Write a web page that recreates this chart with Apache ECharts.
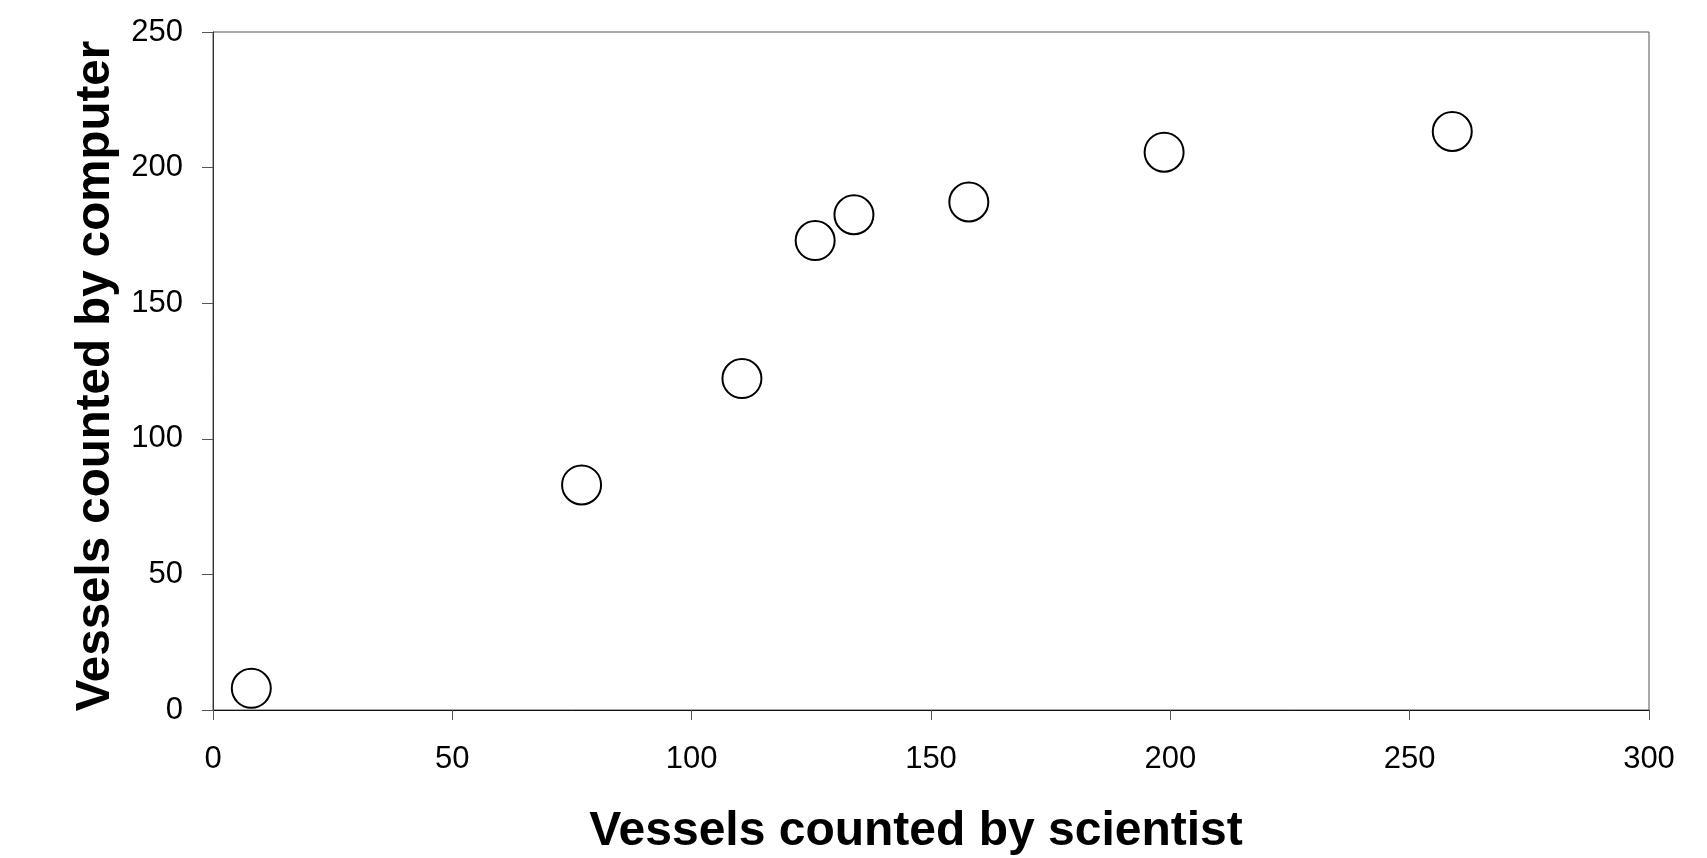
<!DOCTYPE html>
<html>
<head>
<meta charset="utf-8">
<script src="https://cdn.jsdelivr.net/npm/echarts@6/dist/echarts.min.js"></script>
<style>
html,body{margin:0;padding:0;background:#fff;}
#chart{width:1707px;height:858px;}
</style>
</head>
<body>
<div id="chart"></div>
<script>
var scientistCounts = [8, 77, 110.5, 125.8, 133.9, 157.9, 198.7, 258.9];
var computerCounts = [8, 83, 122.2, 173.1, 182.6, 187.3, 205.7, 213.3];
var xTitle = 'Vessels counted by scientist';
var yTitle = 'Vessels counted by computer';

var points = scientistCounts.map(function (x, i) { return [x, computerCounts[i]]; });

var chart = echarts.init(document.getElementById('chart'), null, {renderer: 'canvas'});
var font = '"Liberation Sans", Arial, Helvetica, sans-serif';
chart.setOption({
  animation: false,
  backgroundColor: '#ffffff',
  grid: {left: 213, top: 32, right: 58, bottom: 148, containLabel: false, outerBoundsMode: 'none',
         show: true, borderColor: '#555555', borderWidth: 1, backgroundColor: 'transparent'},
  xAxis: {
    type: 'value', min: 0, max: 300, interval: 50,
    name: xTitle, nameLocation: 'middle', nameGap: 98,
    nameTextStyle: {fontFamily: font, fontSize: 48, fontWeight: 'bold', color: '#000', padding: [0, 30, 0, 0]},
    axisLine: {show: true, onZero: false, lineStyle: {color: '#111', width: 1}},
    axisTick: {show: true, inside: false, length: 10, lineStyle: {color: '#555', width: 1}},
    axisLabel: {show: true, margin: 34, fontFamily: font, fontSize: 31, color: '#000'},
    splitLine: {show: false}
  },
  yAxis: {
    type: 'value', min: 0, max: 250, interval: 50,
    name: yTitle, nameLocation: 'middle', nameGap: 93,
    nameTextStyle: {fontFamily: font, fontSize: 47.5, fontWeight: 'bold', color: '#000', padding: [0, 10, 0, 0]},
    axisLine: {show: true, onZero: false, lineStyle: {color: '#333', width: 1}},
    axisTick: {show: true, inside: false, length: 11, lineStyle: {color: '#555', width: 1}},
    axisLabel: {show: true, margin: 30, fontFamily: font, fontSize: 31, color: '#000'},
    splitLine: {show: false}
  },
  series: [{
    type: 'scatter',
    data: points,
    symbol: 'circle',
    symbolSize: 39,
    itemStyle: {color: '#ffffff', borderColor: '#000000', borderWidth: 2, opacity: 1}
  }]
});
</script>
</body>
</html>
